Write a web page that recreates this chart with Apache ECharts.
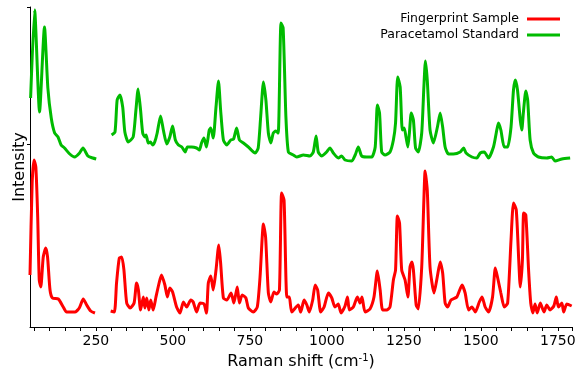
<!DOCTYPE html>
<html>
<head>
<meta charset="utf-8">
<script src="https://cdn.jsdelivr.net/npm/echarts@6/dist/echarts.min.js"></script>
<style>
html,body{margin:0;padding:0;background:#fff;}
#chart{width:583px;height:381px;}
</style>
</head>
<body>
<div id="chart"></div>
<script>
// Raman shift (cm-1) and intensity (arbitrary units, offset); null = gap in data
const standardShift = [38,51,67,83,94,105,116,127,137,148,165,181,197,208,224,240,251,
  272,
  301,312,319,328,337,344,355,371,380,387,395,402,409,413,420,427,434,441,449,460,469,480,490,499,508,518,529,540,547,561,577,586,593,601,609,618,623,631,640,648,655,664,675,688,697,707,716,729,745,767,777,785,794,802,810,818,826,834,842,851,858,867,875,891,902,924,945,956,965,972,983,999,1010,1021,1037,1048,1059,1081,1092,1102,1113,1129,1146,1157,1164,1171,1178,1189,1205,1216,1223,1230,1238,1245,1251,1257,1263,1268,1274,1281,1288,1297,1308,1315,1320,1326,1335,1346,1359,1368,1376,1384,1395,1411,1433,1444,1452,1471,1487,1498,1511,1525,1541,1550,1557,1565,1576,1587,1598,1606,1612,1619,1628,1633,1638,1646,1652,1660,1671,1687,1714,1730,1741,1763,1790];
const standardIntensity = [229,317,215,300,239,209,194,190,182,179,173,170,174,179,171,169,168,
  null,
  192,195,227,232,220,195,185,190,217,238,217,194,190,192,184,185,182,185,194,211,197,183,190,201,187,182,180,175,180,180,179,177,184,189,180,197,199,189,220,246,217,187,182,187,188,199,187,184,180,174,179,210,245,227,194,184,194,196,194,304,299,210,175,172,170,172,171,175,191,175,171,175,179,174,169,171,167,166,172,180,171,170,170,180,222,214,175,172,175,187,204,250,240,197,199,190,180,194,214,207,179,175,194,240,266,247,197,184,200,214,200,180,173,173,175,179,174,170,169,174,175,169,180,194,204,197,180,180,200,237,247,237,207,197,214,236,227,187,174,170,169,170,166,168,169];

const sampleShift = [36,43,49,55,61,66,71,79,87,93,101,109,128,144,155,182,196,209,220,233,247,
  272,
  298,310,317,326,334,341,350,361,374,382,388,395,404,409,415,422,428,436,445,456,463,474,482,490,499,512,523,534,545,558,566,577,588,601,609,615,623,631,640,649,655,664,675,689,698,709,716,725,737,745,761,774,783,794,801,810,818,828,837,846,853,861,870,878,886,907,915,926,935,943,954,962,970,980,991,1005,1016,1026,1037,1046,1059,1067,1073,1086,1099,1108,1114,1124,1140,1153,1164,1173,1181,1194,1205,1216,1223,1229,1236,1243,1254,1263,1270,1276,1281,1290,1297,1308,1315,1319,1326,1335,1348,1359,1368,1376,1384,1392,1403,1422,1439,1449,1460,1471,1482,1495,1504,1514,1525,1538,1547,1554,1565,1576,1587,1598,1606,1615,1623,1628,1635,1639,1646,1655,1662,1669,1676,1683,1693,1705,1714,1725,1737,1745,1752,1763,1769,1779,1795];
const sampleIntensity = [52,144,167,160,110,47,40,70,79,70,37,29,28,20,15,15,19,28,22,16,14,
  null,
  16,15,44,69,70,57,24,19,24,44,37,17,30,19,29,17,27,17,30,45,52,42,30,39,35,20,14,25,20,27,25,15,24,23,14,44,51,37,57,82,64,29,27,34,24,40,24,32,29,19,15,20,50,103,90,34,25,35,33,37,134,127,30,30,15,22,15,27,22,15,27,42,37,15,20,34,29,20,23,14,21,30,17,20,30,24,30,15,18,30,56,37,17,17,20,47,57,111,104,57,47,30,60,65,57,22,18,60,127,156,137,60,34,51,65,54,24,20,27,30,42,34,17,20,15,25,30,20,15,30,59,50,34,20,24,87,124,117,67,40,67,114,112,57,24,14,23,14,24,15,22,17,21,30,20,24,15,23,21];

const X_MIN = 36, X_MAX = 1796, Y_MIN = 0, Y_MAX = 320;
const xTicks = [50,100,150,200,250,300,350,400,450,500,550,600,650,700,750,800,850,900,950,1000,1050,1100,1150,1200,1250,1300,1350,1400,1450,1500,1550,1600,1650,1700,1750];
const xLabels = [250,500,750,1000,1250,1500,1750];
const yTicks = [183];

const seriesNames = ['Fingerprint Sample', 'Paracetamol Standard'];

function pairs(xs, ys) {
  return xs.map((x, i) => [x, ys[i] === null ? '-' : ys[i]]);
}

const CLEAR = 'rgba(0,0,0,0)';
// split lines only at the plot's far edges, to close the frame (top and right)
const xSplitColors = xTicks.map(() => CLEAR).concat(['#000']);
const ySplitColors = yTicks.map(() => CLEAR).concat(['#000']);

const chart = echarts.init(document.getElementById('chart'), null, {renderer: 'canvas'});
const font = 'DejaVu Sans';
const axisLineStyle = {show: true, onZero: false, lineStyle: {color: '#000', width: 1}};
chart.setOption({
  animation: false,
  backgroundColor: '#fff',
  grid: {left: 30, right: 11, top: 7, bottom: 54},
  legend: {
    orient: 'vertical', right: 23, top: 12, padding: 0, align: 'right',
    icon: 'rect', itemWidth: 33, itemHeight: 3, itemGap: 2,
    textStyle: {fontFamily: font, fontSize: 12.5, color: '#000', lineHeight: 14, padding: [0, 3, 0, 0]},
    data: seriesNames
  },
  xAxis: {
    type: 'value', min: X_MIN, max: X_MAX, position: 'bottom',
    name: 'Raman shift (cm{sup|-1})', nameLocation: 'middle', nameGap: 26,
    nameTextStyle: {fontFamily: font, fontSize: 16, color: '#000',
      rich: {sup: {fontFamily: font, fontSize: 10, color: '#000', verticalAlign: 'top', padding: [0, 0, 8, 0]}}},
    axisLine: axisLineStyle,
    axisTick: {show: true, inside: false, length: 4, customValues: xTicks.concat([X_MAX]), lineStyle: {color: '#000'}},
    axisLabel: {customValues: xLabels, fontFamily: font, fontSize: 14, color: '#000', margin: 7,
      formatter: v => String(v)},
    splitLine: {show: true, showMinLine: false, showMaxLine: true, lineStyle: {color: xSplitColors, width: 1}}
  },
  yAxis: {
    type: 'value', min: Y_MIN, max: Y_MAX, position: 'left',
    name: 'Intensity', nameLocation: 'middle', nameGap: 2, nameRotate: 90,
    nameTextStyle: {fontFamily: font, fontSize: 16, color: '#000'},
    axisLine: axisLineStyle,
    axisTick: {show: true, length: 3, customValues: yTicks.concat([Y_MAX]), lineStyle: {color: '#000'}},
    axisLabel: {show: false},
    splitLine: {show: true, showMinLine: false, showMaxLine: true, lineStyle: {color: ySplitColors, width: 1}}
  },
  series: [
    {name: seriesNames[0], type: 'line', data: pairs(sampleShift, sampleIntensity), showSymbol: false,
      smooth: 0.2, connectNulls: false, color: '#ff0000', lineStyle: {width: 3, color: '#ff0000'}},
    {name: seriesNames[1], type: 'line', data: pairs(standardShift, standardIntensity), showSymbol: false,
      smooth: 0.2, connectNulls: false, color: '#00bb00', lineStyle: {width: 3, color: '#00bb00'}}
  ]
});
</script>
</body>
</html>
